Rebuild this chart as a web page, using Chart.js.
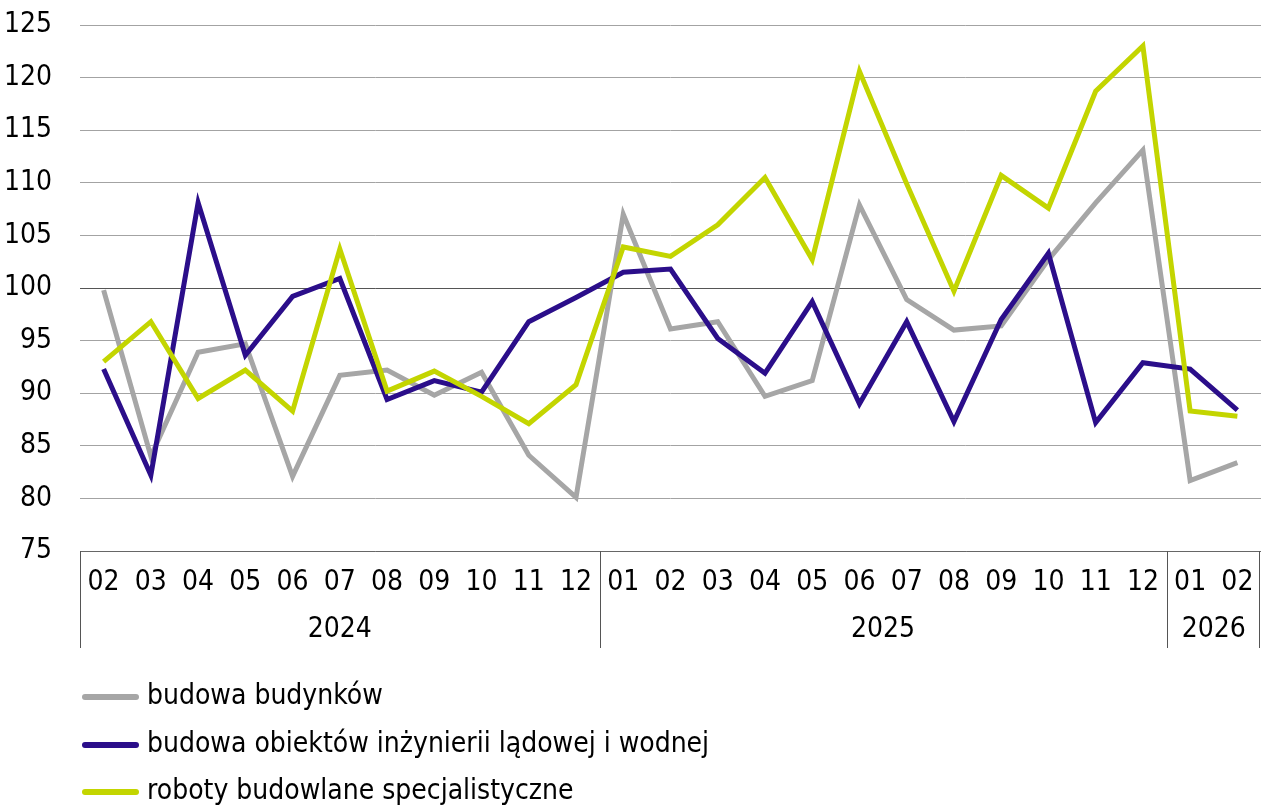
<!DOCTYPE html>
<html>
<head>
<meta charset="utf-8">
<script src="https://cdn.jsdelivr.net/npm/chart.js@4"></script>
<style>
  html, body { margin: 0; padding: 0; background: #fff; }
  #wrap { width: 1261px; height: 807px; }
</style>
</head>
<body>
<div id="wrap"><canvas id="chartcanvas" width="1261" height="807"></canvas></div>
<script>
//month labels on the x axis
var months = ['02','03','04','05','06','07','08','09','10','11','12',
              '01','02','03','04','05','06','07','08','09','10','11','12',
              '01','02'];
//year row under the months
var yearLabels = ['2024', '2025', '2026'];
var yearSpans = [11, 12, 2];

//series values
var budynki = [99.8, 84.0, 93.9, 94.7, 82.1, 91.7, 92.2, 89.8, 92.0, 84.1, 80.1,
               107.0, 96.1, 96.8, 89.7, 91.2, 107.9, 98.9, 96.0, 96.4, 102.7, 108.1, 113.1,
               81.7, 83.4];
var inzynieria = [92.3, 82.2, 108.1, 93.6, 99.2, 100.9, 89.4, 91.2, 90.1, 96.8, 99.1,
                  101.5, 101.8, 95.2, 91.9, 98.7, 89.0, 96.8, 87.3, 97.0, 103.3, 87.2, 92.9,
                  92.3, 88.4];
var specjalistyczne = [93.0, 96.8, 89.5, 92.2, 88.3, 103.7, 90.2, 92.1, 89.7, 87.1, 90.8,
                       103.9, 103.0, 106.0, 110.5, 102.7, 120.6, 109.9, 99.7, 110.7, 107.6, 118.7, 123.0,
                       88.3, 87.8];

var seriesNames = ['budowa budynków', 'budowa obiektów inżynierii lądowej i wodnej', 'roboty budowlane specjalistyczne'];
var seriesColors = ['#a6a6a6', '#2b0e8a', '#c3d500'];

var fontFamily = '"Liberation Sans Narrow", "DejaVu Sans Condensed", "Liberation Sans", sans-serif';
var fontSize = 28;

//draws year row, separators and the legend
var extras = {
  id: 'extras',
  afterDraw: function(chart) {
    var ctx = chart.ctx;
    var xs = chart.scales.x;
    var area = chart.chartArea;
    var step = xs.getPixelForValue(1) - xs.getPixelForValue(0);
    var top = area.bottom;
    var bottom = area.bottom + 97;

    ctx.save();
    ctx.strokeStyle = '#555';
    ctx.lineWidth = 1;
    ctx.fillStyle = '#000';
    ctx.font = fontSize + 'px ' + fontFamily;
    ctx.textAlign = 'center';
    ctx.textBaseline = 'middle';

    var idx = 0;
    var bounds = [0];
    for (var i = 0; i < yearSpans.length; i++) {
      idx += yearSpans[i];
      bounds.push(idx);
    }
    for (var b = 0; b < bounds.length; b++) {
      var x = Math.round(xs.getPixelForValue(bounds[b]) - step / 2) + 0.5;
      if (b == bounds.length - 1) x -= 2;
      ctx.beginPath();
      ctx.moveTo(x, top);
      ctx.lineTo(x, bottom);
      ctx.stroke();
    }
    for (var j = 0; j < yearLabels.length; j++) {
      var x1 = xs.getPixelForValue(bounds[j]) - step / 2;
      var x2 = xs.getPixelForValue(bounds[j + 1]) - step / 2;
      ctx.fillText(yearLabels[j], (x1 + x2) / 2, area.bottom + 79);
    }

    //legend
    var rows = [697, 745, 792];
    ctx.textAlign = 'left';
    ctx.lineCap = 'round';
    for (var k = 0; k < seriesNames.length; k++) {
      ctx.strokeStyle = seriesColors[k];
      ctx.lineWidth = 6;
      ctx.beginPath();
      ctx.moveTo(85, rows[k]);
      ctx.lineTo(136, rows[k]);
      ctx.stroke();
      ctx.fillText(seriesNames[k], 147, rows[k]);
    }
    ctx.restore();
  }
};

var data = {
  labels: months,
  datasets: [
    {
      label: seriesNames[0],
      data: budynki,
      borderColor: seriesColors[0],
      borderWidth: 5,
      pointRadius: 0,
      tension: 0,
      fill: false,
      order: 2
    },
    {
      label: seriesNames[1],
      data: inzynieria,
      borderColor: seriesColors[1],
      borderWidth: 5,
      pointRadius: 0,
      tension: 0,
      fill: false,
      order: 1
    },
    {
      label: seriesNames[2],
      data: specjalistyczne,
      borderColor: seriesColors[2],
      borderWidth: 5,
      pointRadius: 0,
      tension: 0,
      fill: false,
      order: 0
    }
  ]
};

var options = {
  responsive: false,
  animation: false,
  layout: { padding: { top: 25, right: -3, bottom: 156, left: 0 } },
  plugins: {
    legend: { display: false },
    tooltip: { enabled: false }
  },
  scales: {
    x: {
      offset: true,
      grid: { display: false },
      border: { display: true, color: '#666', width: 1 },
      ticks: {
        color: '#000',
        font: { family: fontFamily, size: fontSize },
        padding: 7,
        maxRotation: 0,
        autoSkip: false
      },
      afterFit: function(scale) { scale.height = 100; }
    },
    y: {
      min: 75,
      max: 125,
      border: { display: false },
      grid: {
        drawTicks: false,
        color: function(c) { return c.tick && c.tick.value === 100 ? '#555' : '#a3a3a3'; },
        lineWidth: 1
      },
      ticks: {
        stepSize: 5,
        color: '#000',
        font: { family: fontFamily, size: fontSize },
        padding: 28
      },
      afterFit: function(scale) {
        scale.width = 80;
        scale.paddingTop = 0;
        scale.paddingBottom = 0;
      }
    }
  }
};

var ctx = document.getElementById('chartcanvas');
var chart = new Chart(ctx, { type: 'line', data: data, options: options, plugins: [extras] });
</script>
</body>
</html>
